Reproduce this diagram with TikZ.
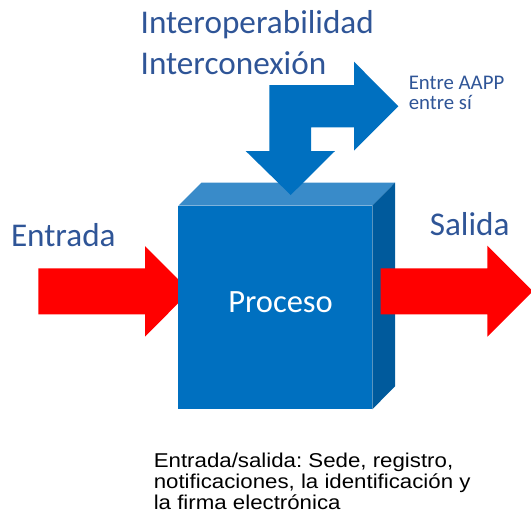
\documentclass[tikz,border=0pt]{standalone}
\usepackage{fontspec}
\setmainfont{Carlito}
\newfontfamily\arialfont[FakeStretch=1.113]{Liberation Sans}
\definecolor{txtblue}{HTML}{2F5597}
\definecolor{boxblue}{HTML}{0070C0}
\definecolor{boxtop}{HTML}{398BC9}
\definecolor{boxside}{HTML}{005A9C}
\definecolor{arrred}{HTML}{FF0000}
\frenchspacing
\begin{document}
\begin{tikzpicture}[x=1pt,y=-1pt,
  lbl/.style={inner sep=0pt, anchor=base west, text=txtblue},
  bigtxt/.style={font=\fontsize{33.2}{39}\selectfont},
  smalltxt/.style={font=\fontsize{20.8}{24}\selectfont},
  foot/.style={inner sep=0pt, anchor=base west, text=black, font=\arialfont\fontsize{20}{21}\selectfont},
  redarrow/.style={fill=arrred, draw=none},
  bluearrow/.style={fill=boxblue, draw=none}]
\useasboundingbox (0,0) rectangle (531,515);

% left red arrow (under the cube)
\fill[redarrow] (38.3,268.3) -- (145,268.3) -- (145,246) -- (190,291.3) -- (145,336.7) -- (145,314.3) -- (38.3,314.3) -- cycle;

% cube
\fill[boxtop] (178.3,205.7) -- (201.3,182.7) -- (395,182.7) -- (372.3,205.7) -- cycle;
\fill[boxside] (372.3,205.7) -- (395,182.7) -- (395,386.3) -- (372.3,409.3) -- cycle;
\fill[boxblue] (178.3,205.7) rectangle (372.3,409.3);
\node[inner sep=0pt, anchor=base, text=white, font=\fontsize{32.5}{39}\selectfont] (proc) at (280.5,312.7) {Proceso};

% right red arrow (over the cube side)
\fill[redarrow] (380.7,268.3) -- (487.3,268.3) -- (487.3,245.7) -- (532.8,291.2) -- (487.3,336.7) -- (487.3,314.3) -- (380.7,314.3) -- cycle;

% bent blue arrow
\fill[bluearrow] (290.7,195) -- (335,151) -- (311,151) -- (311,127.3) -- (354,127.3) -- (354,150.7) -- (398.3,106.2) -- (354,61.7) -- (354,85) -- (269.3,85) -- (269.3,151) -- (245.7,151) -- cycle;

% texts
\node[lbl, bigtxt] (t1) at (140.5,33.3) {Interoperabilidad};
\node[lbl, bigtxt] (t2) at (140.5,74) {Interconexión};
\node[lbl, smalltxt] (aa1) at (408.6,89.3) {Entre AAPP};
\node[lbl, smalltxt] (aa2) at (408.6,109.3) {entre sí};
\node[lbl, bigtxt] (ent) at (10.8,246.7) {Entrada};
\node[lbl, bigtxt] (sal) at (429.6,235) {Salida};
\node[foot] (f1) at (153.6,467.7) {Entrada/salida: Sede, registro,};
\node[foot] (f2) at (153.6,488.7) {notificaciones, la identificación y};
\node[foot] (f3) at (153.6,509.5) {la firma electrónica};
\end{tikzpicture}
\end{document}
